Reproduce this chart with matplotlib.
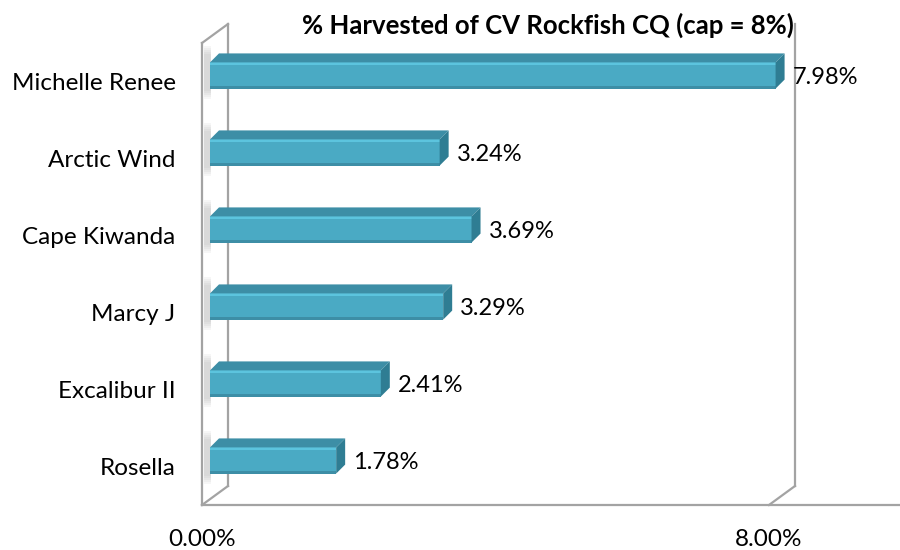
import matplotlib.pyplot as plt
from matplotlib.patches import Polygon, Rectangle

vessels = ["Rosella", "Excalibur II", "Marcy J", "Cape Kiwanda", "Arctic Wind", "Michelle Renee"]
harvested = [1.78, 2.41, 3.29, 3.69, 3.24, 7.98]
value_labels = ["1.78%", "2.41%", "3.29%", "3.69%", "3.24%", "7.98%"]
x_ticks = [0, 8]
x_tick_labels = ["0.00%", "8.00%"]
title = "% Harvested of CV Rockfish CQ (cap = 8%)"

font = "Lato"
grid_col = "#a3a3a3"
front_col = "#4aaac4"
top_col = "#3d8ea6"
side_col = "#2f7d93"
light_col = "#5cc4de"

fig = plt.figure(figsize=(9, 5.5), dpi=100)
ax = fig.add_axes([202 / 900, 45 / 550, 698 / 900, 462 / 550])
ax.set_xlim(0, 8 * 698 / 567)
ax.set_ylim(-0.5, len(vessels) - 0.5)
for s in ax.spines.values():
    s.set_visible(False)

# pixels -> data units
px_x = (ax.get_xlim()[1] - ax.get_xlim()[0]) / 698
px_y = (ax.get_ylim()[1] - ax.get_ylim()[0]) / 462

# depth of the box (back wall offset)
dx, dy = 26 * px_x, 19 * px_y
y0, y1 = ax.get_ylim()
xr = ax.get_xlim()[1]
lw = 1.6
# left wall
ax.plot([0, 0], [y0, y1], color=grid_col, lw=lw, clip_on=False)
ax.plot([dx, dx], [y0 + dy, y1 + dy], color=grid_col, lw=lw, clip_on=False)
ax.plot([0, dx], [y1, y1 + dy], color=grid_col, lw=lw, clip_on=False)
ax.plot([0, dx], [y0, y0 + dy], color=grid_col, lw=lw, clip_on=False)
# floor front edge
ax.plot([0, xr], [y0, y0], color=grid_col, lw=lw, clip_on=False)
# 8% gridline on back wall
ax.plot([8, 8 + dx], [y0, y0 + dy], color=grid_col, lw=lw, clip_on=False)
ax.plot([8 + dx, 8 + dx], [y0 + dy, y1 + dy], color=grid_col, lw=lw, clip_on=False)

# bars as boxes
fx, fy = 8 * px_x, 6 * px_y      # front face offset
bx, by = 17 * px_x, 15 * px_y    # back face offset
h = 0.34
for i, v in enumerate(harvested):
    bot = i - h / 2 + fy
    top = i + h / 2 + fy
    # soft shadow on the side wall
    for k in range(5):
        ax.add_patch(Rectangle((2 * px_x, bot - (10 - 2 * k) * px_y), 7 * px_x, h + (2 * (10 - 2 * k) + 6) * px_y,
                               color="#8a8a8a", alpha=0.07, lw=0))
    ax.barh(i + fy, v, height=h, left=fx, color=front_col, zorder=3)
    ax.add_patch(Rectangle((fx, bot), v, 2.5 * px_y, color=top_col, lw=0, zorder=3))
    ax.add_patch(Rectangle((fx, top - 3 * px_y), v, 3 * px_y, color=light_col, lw=0, zorder=3))
    ax.add_patch(Polygon([(fx, top), (fx + v, top), (bx + v, top + by - fy), (bx, top + by - fy)],
                         closed=True, color=top_col, lw=0, zorder=3))
    ax.add_patch(Polygon([(fx + v, bot), (fx + v, top), (bx + v, top + by - fy), (bx + v, bot + by - fy)],
                         closed=True, color=side_col, lw=0, zorder=3))
    ax.text(v + bx + 8 * px_x, i + 4 * px_y, value_labels[i], fontsize=17, family=font,
            va="center", ha="left", color="black")

ax.set_yticks(range(len(vessels)))
ax.set_yticklabels(vessels, family=font, fontsize=17.5, color="black")
ax.set_xticks(x_ticks)
ax.set_xticklabels(x_tick_labels, family=font, fontsize=17.5, color="black")
ax.tick_params(axis="y", length=0, pad=19)
ax.tick_params(axis="x", length=0, pad=17)

fig.text(548 / 900, 1 - 25 / 550, title, ha="center", va="center", fontsize=18.5,
         fontweight="bold", family=font)

fig.savefig("out.png", dpi=100)
